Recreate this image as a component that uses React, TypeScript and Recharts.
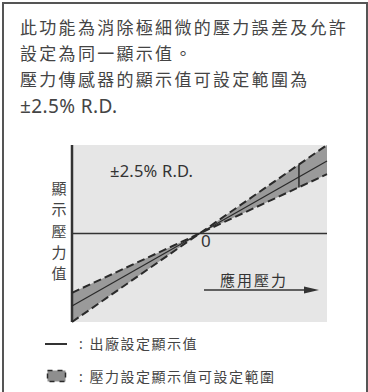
import React from "react";
import {
  ComposedChart,
  Area,
  Line,
  XAxis,
  YAxis,
  CartesianGrid,
  ReferenceLine,
} from "recharts";

// applied pressure (normalised), left edge -> origin -> right edge
const appliedPressure = [-1, 0, 1];
// factory set display value (solid centre line)
const factoryValue = [-0.82, 0, 0.82];
// edges of the allowed setting range (dashed lines)
const steepEdge = [-1, 0, 1];
const shallowEdge = [-0.67, 0, 0.67];
// vertical marker showing the ±2.5% span
const markerX = 0.78;
const markerLow = 0.52;
const markerHigh = 0.78;

const headerLines = [
  "此功能為消除極細微的壓力誤差及允許",
  "設定為同一顯示值。",
  "壓力傳感器的顯示值可設定範圍為",
];
const headerLast = "±2.5% R.D.";
const yLabel = ["顯", "示", "壓", "力", "值"];
const xLabel = "應用壓力";
const bandLabel = "±2.5% R.D.";
const legendItems = ["出廠設定顯示值", "壓力設定顯示值可設定範圍"];

const data = appliedPressure.map((x, i) => ({
  x,
  factory: factoryValue[i],
  steep: steepEdge[i],
  shallow: shallowEdge[i],
  band: [shallowEdge[i], steepEdge[i]],
}));

const FONT = '"Noto Sans", "Noto Sans CJK TC", sans-serif';
const INK = "#333";

const App: React.FC = () => (
  <div
    style={{
      position: "fixed",
      left: 0,
      top: 0,
      width: 368,
      height: 392,
      background: "#fff",
      fontFamily: FONT,
      color: INK,
      overflow: "hidden",
    }}
  >
    {/* frame */}
    <div
      style={{
        position: "absolute",
        left: 2,
        top: 2,
        width: 362,
        height: 400,
        borderTop: "2px solid #555",
        borderLeft: "2px solid #555",
        borderRight: "2px solid #555",
      }}
    />

    {/* header text */}
    <div
      style={{
        position: "absolute",
        left: 20,
        top: 15,
        fontSize: 17,
        lineHeight: "26px",
        whiteSpace: "nowrap",
        color: "#444",
      }}
    >
      {headerLines.map((t) => (
        <div key={t} style={{ letterSpacing: 2.3 }}>
          {t}
        </div>
      ))}
      <div style={{ letterSpacing: 0.4, fontSize: 19 }}>{headerLast}</div>
    </div>

    <div style={{ position: "absolute", left: 0, top: 0 }}>
      <ComposedChart
        width={368}
        height={392}
        data={data}
        margin={{ top: 145, left: 72, right: 41, bottom: 70 }}
      >
        <CartesianGrid
          horizontal={false}
          vertical={false}
          fill="#e6e6e6"
          fillOpacity={1}
          stroke="none"
        />
        <XAxis type="number" dataKey="x" domain={[-1, 1]} hide />
        <YAxis type="number" domain={[-1, 1]} hide />
        <Area
          type="linear"
          dataKey="band"
          fill="#9a9a9a"
          fillOpacity={1}
          stroke="none"
          isAnimationActive={false}
          activeDot={false}
        />
        <ReferenceLine y={0} stroke={INK} strokeWidth={1.5} />
        <ReferenceLine x={-1} stroke={INK} strokeWidth={2.5} />
        <Line
          type="linear"
          dataKey="steep"
          stroke="#2a2a2a"
          strokeWidth={2}
          strokeDasharray="8 4"
          dot={false}
          activeDot={false}
          isAnimationActive={false}
        />
        <Line
          type="linear"
          dataKey="shallow"
          stroke="#2a2a2a"
          strokeWidth={2}
          strokeDasharray="8 4"
          dot={false}
          activeDot={false}
          isAnimationActive={false}
        />
        <Line
          type="linear"
          dataKey="factory"
          stroke="#2a2a2a"
          strokeWidth={1.2}
          dot={false}
          activeDot={false}
          isAnimationActive={false}
        />
        <ReferenceLine
          segment={[
            { x: markerX, y: markerLow },
            { x: markerX, y: markerHigh },
          ]}
          stroke="#2a2a2a"
          strokeWidth={1.5}
        />
      </ComposedChart>
    </div>

    {/* chart annotations */}
    <div
      style={{
        position: "absolute",
        left: 110,
        top: 160,
        fontSize: 16.5,
        letterSpacing: 0.2,
        lineHeight: "22px",
        whiteSpace: "nowrap",
      }}
    >
      {bandLabel}
    </div>
    <div
      style={{
        position: "absolute",
        left: 201,
        top: 230,
        fontSize: 17,
        lineHeight: "22px",
      }}
    >
      0
    </div>
    <div
      style={{
        position: "absolute",
        left: 51,
        top: 178,
        fontSize: 15,
        lineHeight: "21.3px",
        color: "#444",
        width: 16,
        textAlign: "center",
      }}
    >
      {yLabel.map((c) => (
        <div key={c}>{c}</div>
      ))}
    </div>
    <div
      style={{
        position: "absolute",
        left: 220,
        top: 270,
        fontSize: 15,
        letterSpacing: 2,
        lineHeight: "20px",
        whiteSpace: "nowrap",
      }}
    >
      {xLabel}
    </div>
    <svg
      width={368}
      height={392}
      style={{ position: "absolute", left: 0, top: 0 }}
    >
      <line x1={204} y1={290} x2={308} y2={290} stroke={INK} strokeWidth={1.5} />
      <polygon points="304,286.5 319,290 304,293.5" fill={INK} />
      {/* legend marks */}
      <line x1={45} y1={344} x2={67} y2={344} stroke={INK} strokeWidth={2} />
      <rect
        x={47.5}
        y={370.5}
        width={18}
        height={11}
        fill="#8e8e8e"
        stroke="#2a2a2a"
        strokeWidth={1.5}
        strokeDasharray="5 5"
      />
    </svg>

    {/* legend text */}
    {legendItems.map((t, i) => (
      <div
        key={t}
        style={{
          position: "absolute",
          left: 79,
          top: i === 0 ? 334 : 367,
          fontSize: 14,
          lineHeight: "20px",
          letterSpacing: 1.5,
          color: "#444",
          whiteSpace: "nowrap",
        }}
      >
        : {t}
      </div>
    ))}
  </div>
);

export default App;
